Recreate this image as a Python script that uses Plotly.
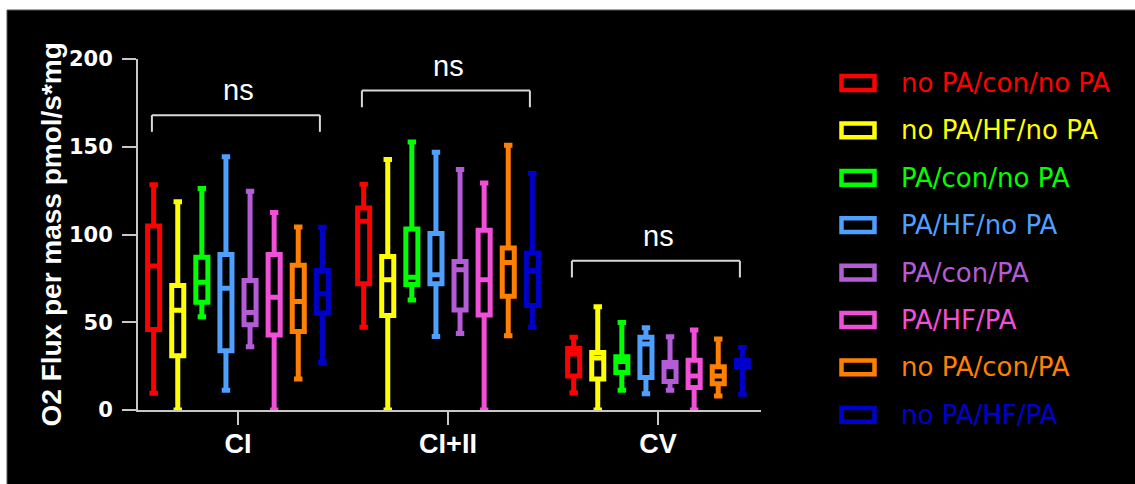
import plotly.graph_objects as go

# ---------------- data ----------------
categories = ["CI", "CI+II", "CV"]
series_names = ["no PA/con/no PA", "no PA/HF/no PA", "PA/con/no PA", "PA/HF/no PA",
                "PA/con/PA", "PA/HF/PA", "no PA/con/PA", "no PA/HF/PA"]
series_colors = ["#FF0000", "#FFFF00", "#00FF00", "#4F9FFF",
                 "#B45CD6", "#F24FD9", "#FF8000", "#0000CD"]

# one row per series, values for [CI, CI+II, CV]
mins = [[9.5, 47.1, 9.9], [0, 0, 0], [53.2, 62.7, 11.3], [11.3, 41.9, 9.3],
        [36.0, 43.6, 11.3], [0, 0, 0], [17.6, 42.3, 8.0], [27.1, 47.1, 9.0]]
q1s = [[45.9, 71.9, 19.4], [30.9, 53.8, 17.6], [61.4, 71.5, 21.3], [33.7, 71.9, 18.5],
       [48.6, 57.0, 16.2], [42.7, 54.2, 12.8], [44.8, 64.8, 15.0], [55.3, 59.5, 24.6]]
medians = [[82.0, 107.5, 31.9], [56.8, 74.2, 29.6], [72.8, 75.7, 27.6], [69.4, 77.0, 37.6],
           [55.5, 79.9, 24.6], [64.2, 74.2, 19.4], [61.8, 84.1, 19.4], [66.2, 79.5, 26.5]]
q3s = [[104.8, 115.1, 35.1], [70.9, 87.5, 32.8], [87.1, 103.1, 30.3], [88.6, 100.5, 41.4],
       [73.8, 84.6, 27.1], [88.6, 102.4, 28.4], [82.5, 92.3, 24.6], [79.5, 89.4, 28.4]]
maxs = [[128.3, 128.7, 41.4], [118.6, 142.8, 58.9], [126.2, 152.7, 49.8], [144.3, 146.8, 46.9],
        [124.7, 137.1, 41.7], [112.5, 129.3, 45.6], [104.3, 150.8, 40.4], [104.1, 134.8, 35.6]]

y_ticks = [0, 50, 100, 150, 200]
y_title = "O2 Flux per mass pmol/s*mg"
sig_labels = ["ns", "ns", "ns"]
sig_levels = [168, 182, 85]

# ---------------- layout geometry (pixels) ----------------
W, H = 1135, 484
L, R, T, B = 138, 374, 59, 74
PW = W - L - R
PH = H - T - B


def px_x(p):
    return (p - L) / PW


def px_y(p):
    return (H - B - p) / PH


axis_col = "#C8C8C8"

fig = go.Figure()
for i, name in enumerate(series_names):
    fig.add_trace(go.Box(
        x=categories,
        q1=q1s[i], median=medians[i], q3=q3s[i],
        lowerfence=mins[i], upperfence=maxs[i],
        name=name,
        line=dict(color=series_colors[i], width=5),
        fillcolor="black",
        whiskerwidth=0.7,
        boxpoints=False,
        showlegend=False,
        hoverinfo="skip",
    ))

shapes = []
# black canvas with thin grey border
shapes.append(dict(type="rect", xref="paper", yref="paper",
                   x0=px_x(7), x1=px_x(W + 5), y0=px_y(10), y1=px_y(H + 5),
                   fillcolor="black", line=dict(color="#555555", width=1), layer="below"))

annotations = []
# significance brackets
bracket_col = "#D8D8D8"
for i, (lab, lev) in enumerate(zip(sig_labels, sig_levels)):
    x0, x1 = i - 0.41, i + 0.39
    drop = 9.5
    shapes.append(dict(type="line", xref="x", yref="y", x0=x0, x1=x1, y0=lev, y1=lev,
                       line=dict(color=bracket_col, width=2)))
    shapes.append(dict(type="line", xref="x", yref="y", x0=x0, x1=x0, y0=lev, y1=lev - drop,
                       line=dict(color=bracket_col, width=2)))
    shapes.append(dict(type="line", xref="x", yref="y", x0=x1, x1=x1, y0=lev, y1=lev - drop,
                       line=dict(color=bracket_col, width=2)))
    annotations.append(dict(x=i, y=lev, xref="x", yref="y", text=lab, showarrow=False,
                            yanchor="middle", yshift=25,
                            font=dict(family="Liberation Sans, Arial", size=29, color="white")))

# manual legend
for i, (name, col) in enumerate(zip(series_names, series_colors)):
    yc = 83 + 47.4 * i
    shapes.append(dict(type="rect", xref="paper", yref="paper",
                       x0=px_x(841.5), x1=px_x(874.5), y0=px_y(yc + 6.9), y1=px_y(yc - 6.9),
                       fillcolor="black", line=dict(color=col, width=4.5)))
    annotations.append(dict(x=px_x(899), y=px_y(yc), xref="paper", yref="paper",
                            text=name, showarrow=False, xanchor="left", yanchor="middle",
                            font=dict(family="DejaVu Sans", size=26, color=col)))

# y axis title
annotations.append(dict(x=px_x(51), y=0.5, xref="paper", yref="paper", text=y_title,
                        textangle=-90, showarrow=False, xanchor="center", yanchor="middle",
                        font=dict(family="Liberation Sans, Arial", size=28, color="white",
                                  weight="bold")))

x_r0 = -100 / 210
fig.update_layout(
    width=W, height=H, autosize=False,
    margin=dict(l=L, r=R, t=T, b=B, pad=0),
    paper_bgcolor="white",
    plot_bgcolor="rgba(0,0,0,0)",
    boxmode="group", boxgap=0.082, boxgroupgap=0.5,
    shapes=shapes, annotations=annotations,
    xaxis=dict(type="category", categoryorder="array", categoryarray=categories,
               range=[x_r0, x_r0 + PW / 210], showgrid=False, zeroline=False,
               showline=True, linecolor=axis_col, linewidth=2,
               ticks="outside", ticklen=13, tickwidth=2, tickcolor=axis_col,
               tickfont=dict(family="Liberation Sans, Arial", size=27, color="white",
                             weight="bold"),
               ticklabelstandoff=-4),
    yaxis=dict(range=[0, 200], tickvals=y_ticks, showgrid=False, zeroline=False,
               showline=True, linecolor=axis_col, linewidth=2,
               ticks="outside", ticklen=14, tickwidth=2, tickcolor=axis_col,
               tickfont=dict(family="DejaVu Sans", size=21, color="white", weight="bold"),
               ticklabelstandoff=5),
    showlegend=False,
)

fig.write_html("out.html")
